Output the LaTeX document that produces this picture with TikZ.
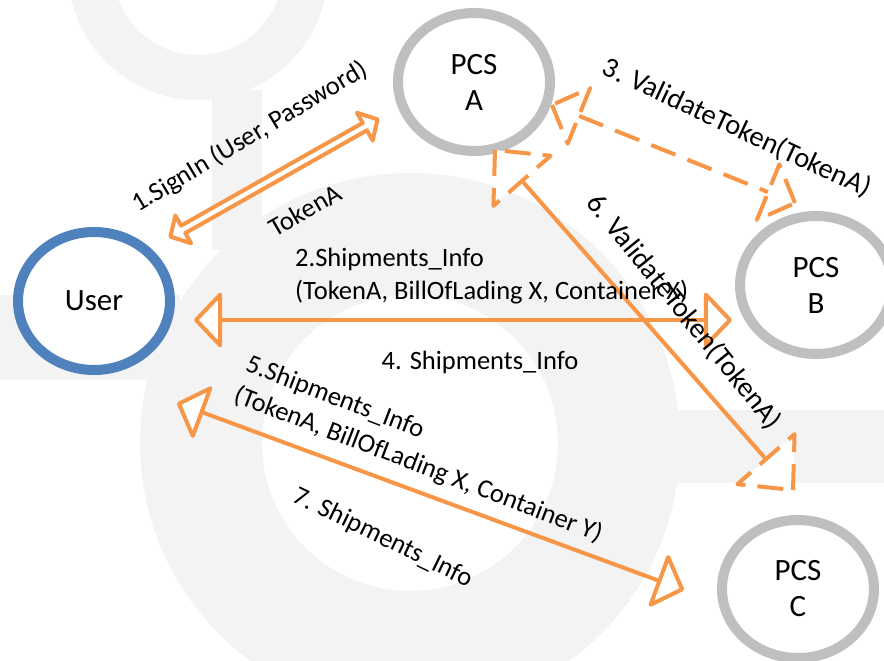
\documentclass[tikz,border=0pt]{standalone}
\usepackage{fontspec}
\setmainfont{Carlito}
\usetikzlibrary{arrows.meta,shapes.geometric,shapes.arrows,calc}
\definecolor{acc}{HTML}{F79646}
\definecolor{pcsgray}{HTML}{BFBFBF}
\definecolor{userblue}{HTML}{4F81BD}
\definecolor{wm}{HTML}{F3F3F3}
\tikzset{
  wtri/.tip={Triangle[length=29pt,width=60pt,fill=white,round]},
  flow/.style={draw=acc, line width=4pt, line join=round},
  lbl/.style={font=\fontsize{26.5}{33}\selectfont, inner sep=0pt},
  biglbl/.style={font=\fontsize{28.5}{34}\selectfont, inner sep=0pt},
  station/.style={ellipse, draw=pcsgray, line width=10pt, fill=white,
    minimum width=152pt, minimum height=138pt, inner sep=0pt, align=center,
    font=\fontsize{31}{36}\selectfont},
  usernode/.style={station, draw=userblue},
  dashhead/.style={flow, dash pattern=on 26pt off 12pt, fill=white},
  dashline/.style={flow, dash pattern=on 26pt off 13pt},
}
\begin{document}
\begin{tikzpicture}[x=1pt,y=-1pt]
\useasboundingbox (0,0) rectangle (884,661);
\fill[white] (0,0) rectangle (884,661);
% faint watermark
\fill[wm, even odd rule] (410,443) circle[radius=270] (410,443) circle[radius=148];
\fill[wm, even odd rule] (198,-30) circle[radius=130] (198,-30) circle[radius=85];
\fill[wm] (212,90) rectangle (262,250);
\fill[wm] (0,295) rectangle (180,380);
\fill[wm] (660,410) rectangle (884,483);

% stations
\node[usernode] (U) at (94,301) {User};
\node[station] (A) at (474,82) {PCS\\A};
\node[station] (B) at (816,285) {PCS\\B};
\node[station] (C) at (798,589) {PCS\\C};

% arrow 1 (block double arrow)
\node[double arrow, flow, fill=white, minimum height=238pt, minimum width=32pt,
  double arrow head extend=5.5pt, double arrow tip angle=95, inner sep=0pt,
  rotate=29.5] (a1) at (274,178) {};

% arrow 2/4
\coordinate (t2a) at (194,320);
\coordinate (t2b) at (732,320);
\draw[flow, wtri-wtri] (t2a) -- (t2b);

% arrow 5/7
\coordinate (t5a) at (177,403);
\coordinate (t5b) at (684,590);
\draw[flow, wtri-wtri] (t5a) -- (t5b);

% arrow 3 (dashed)
\coordinate (t3a) at (552,105);
\coordinate (t3b) at (795,203);
\coordinate (m3a) at ($(t3a)!29pt!(t3b)$);
\coordinate (m3b) at ($(t3b)!29pt!(t3a)$);
\draw[dashline] (m3a) -- (m3b);
\draw[dashhead] (t3a) -- ($(m3a)!30pt!90:(t3a)$) -- ($(m3a)!30pt!-90:(t3a)$) -- cycle;
\draw[dashhead] (t3b) -- ($(m3b)!30pt!90:(t3b)$) -- ($(m3b)!30pt!-90:(t3b)$) -- cycle;

% arrow 6
\coordinate (t6a) at (495,150);
\coordinate (t6b) at (793,490);
\coordinate (m6a) at ($(t6a)!41pt!(t6b)$);
\coordinate (m6b) at ($(t6b)!41pt!(t6a)$);
\draw[flow] (m6a) -- (m6b);
\draw[dashhead] (t6a) -- ($(m6a)!38pt!90:(t6a)$) -- ($(m6a)!38pt!-90:(t6a)$) -- cycle;
\draw[dashhead] (t6b) -- ($(m6b)!38pt!90:(t6b)$) -- ($(m6b)!38pt!-90:(t6b)$) -- cycle;

% labels
\node[lbl, rotate=31] (l1) at (250,137) {1.SignIn (User, Password)};
\node[lbl, rotate=30] (l1b) at (305,210) {TokenA};
\node[lbl, anchor=north west, align=left] (l2) at (295,248) {2.Shipments\_Info\\(TokenA, BillOfLading X, Container X)};
\node[lbl] (l4) at (480,362) {4. Shipments\_Info};
\node[lbl, rotate=-21, align=left] (l5) at (424,450) {5.Shipments\_Info\\(TokenA, BillOfLading X, Container Y)};
\node[lbl, rotate=-26] (l7) at (383,538) {7. Shipments\_Info};
\node[biglbl, rotate=-25] (l3) at (737,128) {3. ValidateToken(TokenA)};
\node[biglbl, rotate=-51] (l6) at (684,312) {6. ValidateToken(TokenA)};
\end{tikzpicture}
\end{document}
